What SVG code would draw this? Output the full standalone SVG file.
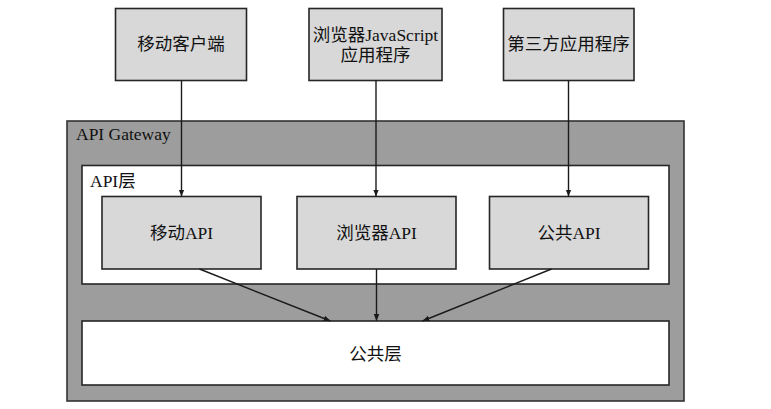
<svg xmlns="http://www.w3.org/2000/svg" width="771" height="409" viewBox="0 0 771 409">
<style>
text{font-family:"Liberation Serif","Noto Sans CJK SC",serif;font-size:17.5px;fill:#111111}
.c{text-anchor:middle;dominant-baseline:central}
.box{fill:#d8d8d8;stroke:#262626;stroke-width:1.6}
.white{fill:#ffffff;stroke:#262626;stroke-width:1.6}
.gw{fill:#9d9d9d;stroke:#333333;stroke-width:1.6}
.ln{stroke:#1a1a1a;stroke-width:1.4;fill:none;marker-end:url(#ah)}
</style>
<defs>
<marker id="ah" viewBox="0 0 10 10" refX="10" refY="5" markerWidth="7" markerHeight="7" markerUnits="userSpaceOnUse" orient="auto">
<path d="M0,1 L10,5 L0,9 Z" fill="#1a1a1a"/>
</marker>
</defs>
<rect width="771" height="409" fill="#ffffff"/>
<g id="gateway">
<rect class="gw" x="67" y="121" width="617" height="280"/>
<text x="76" y="140">API Gateway</text>
</g>
<g id="api-layer">
<rect class="white" x="82" y="165.5" width="587" height="118.5"/>
<text x="90" y="187">API层</text>
</g>
<g id="common-layer">
<rect class="white" x="82" y="321" width="587" height="64"/>
<text class="c" x="375.5" y="354">公共层</text>
</g>
<g id="mobile-client">
<rect class="box" x="115.5" y="8.5" width="131" height="72"/>
<text class="c" x="181" y="44">移动客户端</text>
</g>
<g id="browser-app">
<rect class="box" x="309" y="8.5" width="133" height="72"/>
<text class="c" x="375.5" y="35">浏览器JavaScript</text>
<text class="c" x="375.5" y="55">应用程序</text>
</g>
<g id="third-party">
<rect class="box" x="503.5" y="8.5" width="130.5" height="72"/>
<text class="c" x="568.5" y="44">第三方应用程序</text>
</g>
<g id="mobile-api">
<rect class="box" x="102" y="196.5" width="159" height="72.5"/>
<text class="c" x="181.5" y="232.5">移动API</text>
</g>
<g id="browser-api">
<rect class="box" x="297" y="196.5" width="159" height="72.5"/>
<text class="c" x="376.5" y="232.5">浏览器API</text>
</g>
<g id="public-api">
<rect class="box" x="489.5" y="196.5" width="159" height="72.5"/>
<text class="c" x="569" y="232.5">公共API</text>
</g>
<g id="connectors">
<line class="ln" x1="181.5" y1="80.5" x2="181.5" y2="196.5"/>
<line class="ln" x1="376" y1="80.5" x2="376" y2="196.5"/>
<line class="ln" x1="568.5" y1="80.5" x2="568.5" y2="196.5"/>
<line class="ln" x1="199.5" y1="269" x2="330.5" y2="321"/>
<line class="ln" x1="376.5" y1="269" x2="376.5" y2="321"/>
<line class="ln" x1="551.5" y1="269" x2="422.5" y2="321"/>
</g>
</svg>
